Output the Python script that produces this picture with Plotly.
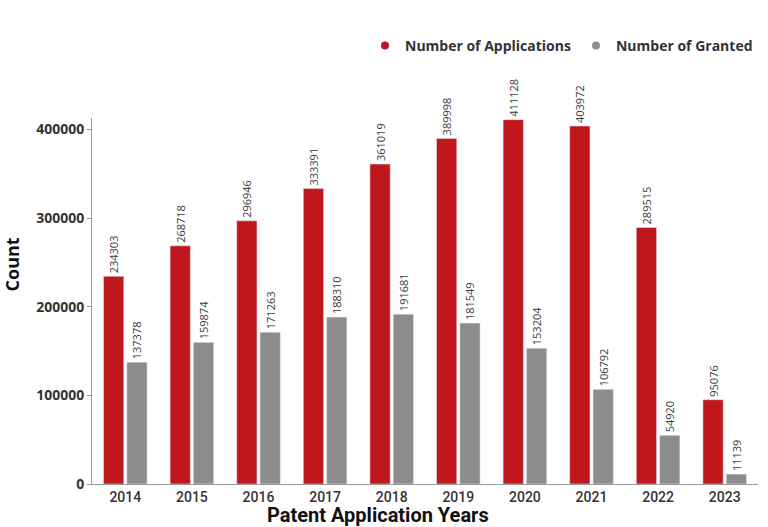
import plotly.graph_objects as go

years = ["2014", "2015", "2016", "2017", "2018", "2019", "2020", "2021", "2022", "2023"]
applications = [234303, 268718, 296946, 333391, 361019, 389998, 411128, 403972, 289515, 95076]
granted = [137378, 159874, 171263, 188310, 191681, 181549, 153204, 106792, 54920, 11139]
y_ticks = [0, 100000, 200000, 300000, 400000]

RED = "#C0171D"
GRAY = "#8C8C8C"
label_font = dict(family="Open Sans", size=11, color="#3A3A3A")
COND = "Roboto"

fig = go.Figure()
fig.add_trace(go.Bar(
    x=years, y=applications, name="Number of Applications",
    marker=dict(color=RED), showlegend=False,
    text=[str(v) for v in applications], textposition="outside",
    textangle=-90, textfont=label_font, cliponaxis=False, constraintext="none",
))
fig.add_trace(go.Bar(
    x=years, y=granted, name="Number of Granted",
    marker=dict(color=GRAY), showlegend=False,
    text=[str(v) for v in granted], textposition="outside",
    textangle=-90, textfont=label_font, cliponaxis=False, constraintext="none",
))
# legend entries with circle markers
fig.add_trace(go.Scatter(x=[None], y=[None], mode="markers", name="Number of Applications",
                         marker=dict(color=RED, size=8, symbol="circle")))
fig.add_trace(go.Scatter(x=[None], y=[None], mode="markers", name="Number of Granted",
                         marker=dict(color=GRAY, size=8, symbol="circle")))

fig.update_layout(
    width=768, height=527,
    margin=dict(l=92, r=10, t=118, b=43, autoexpand=False),
    paper_bgcolor="white", plot_bgcolor="white",
    barmode="group", bargap=0.3, bargroupgap=0.13,
    legend=dict(orientation="h", x=1.0, xanchor="right", y=1.197, yanchor="middle",
                font=dict(family="Open Sans", size=14, color="#333333", weight=700),
                itemwidth=30, bgcolor="rgba(0,0,0,0)"),
    xaxis=dict(
        type="category", automargin=False,
        showline=True, linecolor="#9A9A9A", linewidth=1,
        ticks="", showgrid=False,
        tickfont=dict(family=COND, size=14, color="#333333", weight=500),
    ),
    yaxis=dict(
        range=[0, 413000], automargin=False,
        tickvals=y_ticks, ticktext=[str(v) for v in y_ticks],
        showline=True, linecolor="#9A9A9A", linewidth=1,
        ticks="outside", ticklen=4, tickcolor="#9A9A9A",
        showgrid=False, zeroline=False,
        tickfont=dict(family="Open Sans", size=14, color="#333333", weight=700),
    ),
    annotations=[
        dict(text="Patent Application Years", xref="paper", yref="paper",
             x=0.43, y=-0.0835, xanchor="center", yanchor="middle", showarrow=False,
             font=dict(family=COND, size=20, color="#111111", weight=700)),
        dict(text="Count", xref="paper", yref="paper", textangle=-90,
             x=-0.12, y=0.6, xanchor="center", yanchor="middle", showarrow=False,
             font=dict(family="Open Sans", size=18, color="#111111", weight=700)),
    ],
)

fig.write_html("out.html", config={"displayModeBar": False},
               post_script="document.body.style.margin='0';")
